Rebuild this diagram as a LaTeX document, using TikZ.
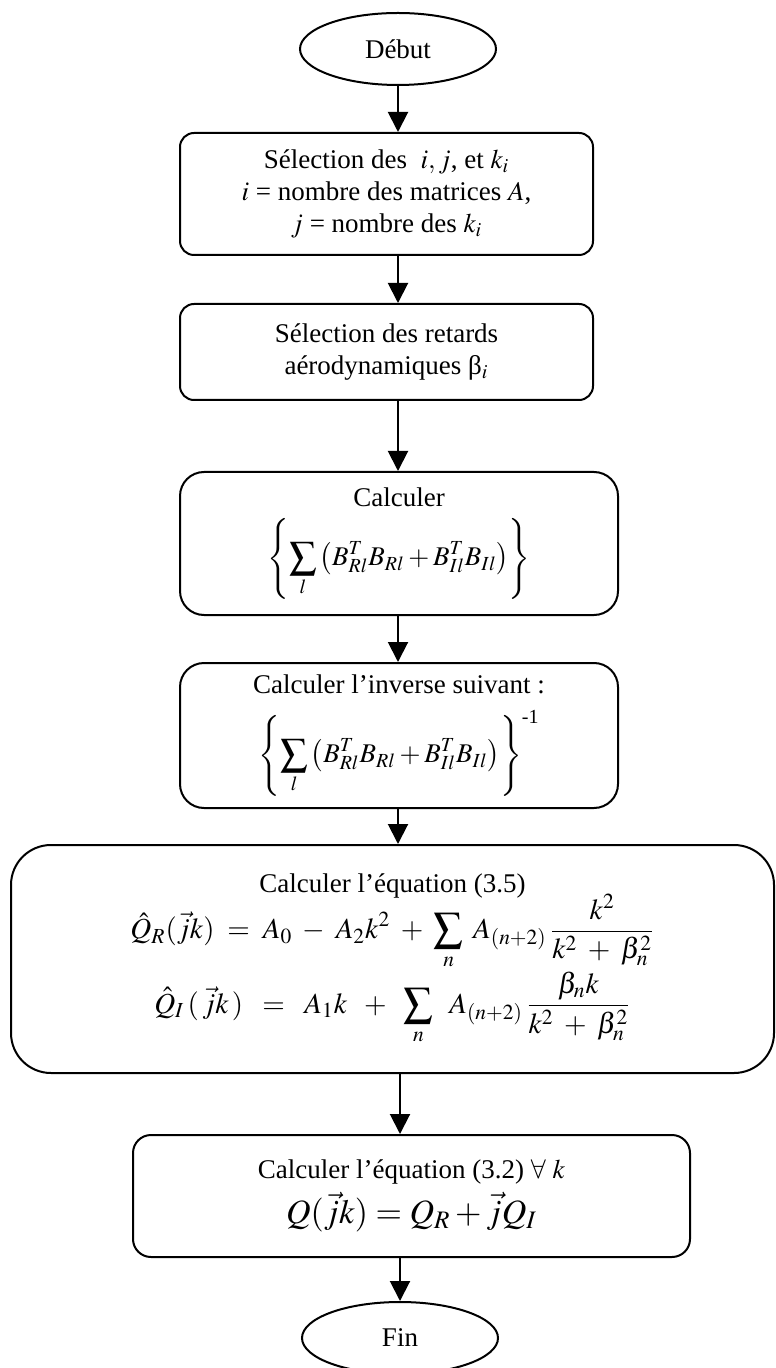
\documentclass[tikz,border=0pt]{standalone}
\usepackage{amsmath,amssymb}
\usepackage{mathptmx}
\usepackage{fontspec}
\setmainfont{Liberation Serif}
\usepackage{tikz}
\usetikzlibrary{shapes.geometric, arrows.meta, positioning, calc}

\begin{document}
\begin{tikzpicture}[
    x=0.5pt, y=-0.5pt,
    box/.style={
        rectangle,
        rounded corners=7pt,
        draw=black,
        line width=1pt,
        inner sep=0pt,
        align=center,
        font=\fontsize{13.5}{16}\selectfont
    },
    calcbox/.style={
        box,
        rounded corners=12pt
    },
    bigbox/.style={
        box,
        rounded corners=20pt
    },
    terminal/.style={
        ellipse,
        draw=black,
        line width=1pt,
        minimum width=98pt,
        minimum height=36pt,
        inner sep=0pt,
        font=\fontsize{13.5}{16}\selectfont
    },
    arrow/.style={
        -{Triangle[width=10pt, length=10pt]},
        line width=1pt,
        draw=black
    }
]

    \useasboundingbox (0,0) rectangle (775,1368);

    % Start
    \node[terminal] (debut) at (398,49) {Début};

    % Selection of i, j and k_i
    \node[box, minimum width=206.5pt, minimum height=61pt] (select) at (386.5,194) {
        Sélection des \ $i, j$, et $k_i$ \\
        $i$ = nombre des matrices $A$, \\
        $j$ = nombre des $k_i$
    };

    % Aerodynamic lags
    \node[box, minimum width=206.5pt, minimum height=48pt] (retard) at (386.5,352) {
        Sélection des retards \\
        aérodynamiques β$_i$
    };

    % Sum
    \node[calcbox, minimum width=219pt, minimum height=71.5pt] (somme) at (399,543.5) {
        Calculer \\[5pt]
        $\displaystyle\left\{\sum_{l}\left(B^{T}_{Rl}B_{Rl}+B^{T}_{Il}B_{Il}\right)\right\}$
    };

    % Inverse
    \node[calcbox, minimum width=219pt, minimum height=72.5pt] (inverse) at (399,735.5) {
        Calculer l’inverse suivant : \\[7pt]
        $\displaystyle\left\{\sum_{l}\left(B^{T}_{Rl}B_{Rl}+B^{T}_{Il}B_{Il}\right)\right\}^{\text{-1}}$
    };

    % Equation (3.5)
    \node[bigbox, minimum width=381.5pt, minimum height=114pt] (equa) at (392.5,959) {
        Calculer l’équation (3.5) \\[-3pt]
        {\fontsize{14.5}{17}\selectfont
        $\displaystyle\hat{Q}_{R}(\vec{j}k) \;=\; A_{0} \;-\; A_{2}k^{2} \;+\; \sum_{n}\; A_{(n+2)}\,\frac{k^{2}}{k^{2}\;+\;\beta_{n}^{2}}$} \\[0pt]
        {\fontsize{14.5}{17}\selectfont
        $\displaystyle\hat{Q}_{I}\,(\,\vec{j}k\,) \;\;=\;\; A_{1}k \;\;+\;\; \sum_{n}\;\; A_{(n+2)}\,\frac{\beta_{n}k}{k^{2}\;+\;\beta_{n}^{2}}$}
    };

    % Equation (3.2)
    \node[box, rounded corners=9pt, minimum width=278.5pt, minimum height=61pt] (equb) at (411.5,1196) {
        Calculer l’équation (3.2) $\forall\ k$ \\[3pt]
        {\fontsize{17}{20}\selectfont $Q(\vec{j}k) = Q_{R} + \vec{j}Q_{I}$}
    };

    % End
    \node[terminal] (fin) at (400,1338) {Fin};

    % Arrows
    \draw[arrow] (debut.south) -- (debut.south |- select.north);
    \draw[arrow] (select.south -| debut) -- (retard.north -| debut);
    \draw[arrow] (retard.south -| debut) -- (somme.north -| debut);
    \draw[arrow] (somme.south -| debut) -- (inverse.north -| debut);
    \draw[arrow] (inverse.south -| debut) -- (equa.north -| debut);
    \draw[arrow] (equa.south -| fin) -- (equb.north -| fin);
    \draw[arrow] (equb.south -| fin) -- (fin.north);

\end{tikzpicture}
\end{document}
